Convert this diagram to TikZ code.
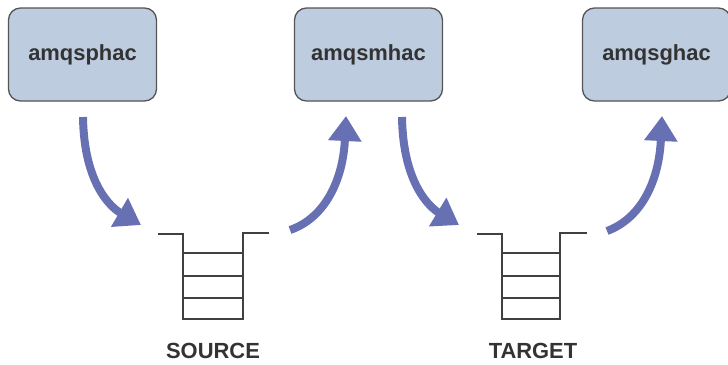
\documentclass[tikz,border=0pt]{standalone}
\usepackage{fontspec}
\setmainfont{Liberation Sans}
\usetikzlibrary{arrows.meta}
\definecolor{boxfill}{HTML}{BECCE0}
\definecolor{boxline}{HTML}{555555}
\definecolor{arrowcol}{HTML}{6870B4}
\definecolor{txt}{HTML}{333333}
\tikzset{
  prog/.style={draw=boxline, line width=1.3bp, fill=boxfill, rounded corners=12bp,
    minimum width=148bp, minimum height=93bp, inner sep=0pt,
    font=\fontsize{22}{26}\selectfont\bfseries, text=txt},
  flow/.style={draw=arrowcol, line width=8bp, -{Triangle[width=32bp,length=25bp]}},
  queue/.style={draw=black!75, line width=1.6bp},
  qlabel/.style={font=\fontsize{22}{26}\selectfont\bfseries, text=txt, inner sep=0pt}
}
\begin{document}
\begin{tikzpicture}[x=1bp,y=-1bp]
\useasboundingbox (0,0) rectangle (728,364);
% program boxes
\node[prog] (put) at (82.5,54.5) {amqsphac};
\node[prog] (mh)  at (368.5,54.5) {amqsmhac};
\node[prog] (get) at (656.5,54.5) {amqsghac};
% queues
\draw[queue] (158,234) -- (183,234) -- (183,319) -- (243,319) -- (243,233) -- (269,233);
\draw[queue] (183,253) -- (243,253) (183,276) -- (243,276) (183,298) -- (243,298);
\draw[queue] (477,234) -- (502,234) -- (502,319) -- (560,319) -- (560,233) -- (587,233);
\draw[queue] (502,253) -- (560,253) (502,276) -- (560,276) (502,298) -- (560,298);
\node[qlabel] (src) at (213,351) {SOURCE};
\node[qlabel] (tgt) at (533,351) {TARGET};
% arrow end points
\coordinate (a1s) at (83,117);
\coordinate (a1e) at (141,225);
\coordinate (a2s) at (290,230);
\coordinate (a2e) at (346,116);
\coordinate (a3s) at (402,117);
\coordinate (a3e) at (459,225);
\coordinate (a4s) at (607,231);
\coordinate (a4e) at (662,116);
\draw[flow] (a1s) .. controls (84,185) and (112,208) .. (a1e);
\draw[flow] (a2s) .. controls (325,218) and (343,180) .. (a2e);
\draw[flow] (a3s) .. controls (403,185) and (431,208) .. (a3e);
\draw[flow] (a4s) .. controls (642,218) and (659,180) .. (a4e);
\end{tikzpicture}
\end{document}
